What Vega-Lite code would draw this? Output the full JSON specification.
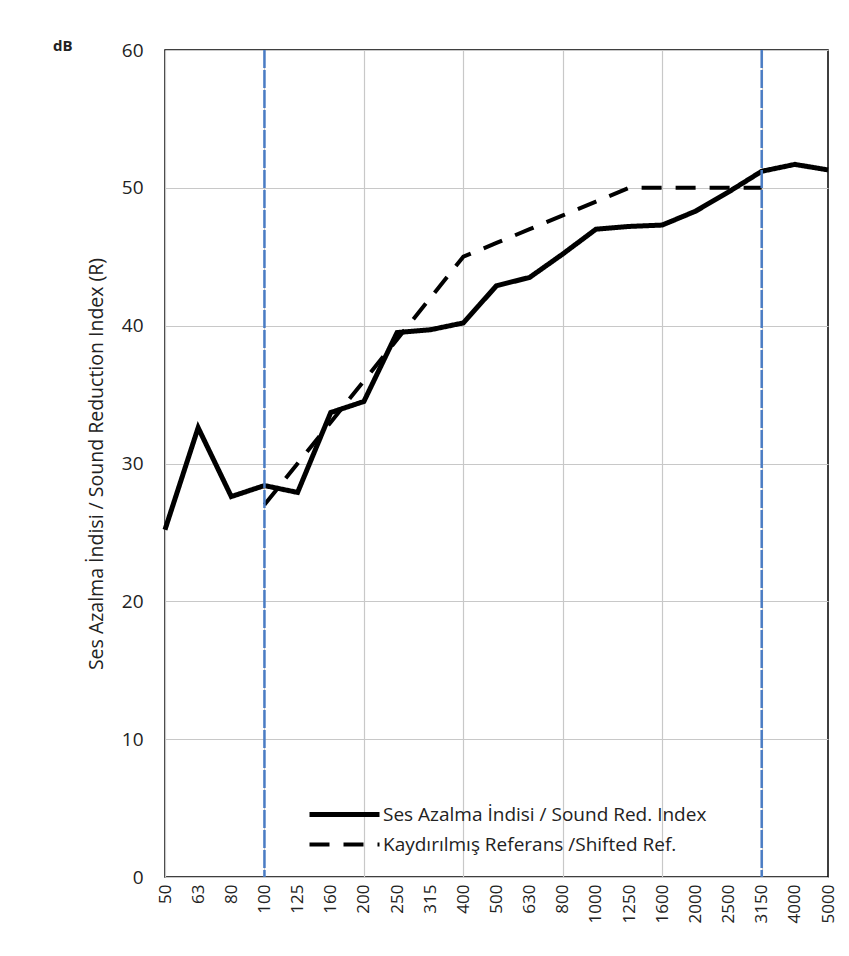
{
  "$schema": "https://vega.github.io/schema/vega-lite/v6.json",
  "width": 663,
  "height": 827,
  "autosize": {"type": "none"},
  "padding": {"left": 165, "top": 50, "right": 21, "bottom": 79},
  "background": "white",
  "config": {
    "view": {"stroke": "#000", "strokeWidth": 1.5},
    "font": "Open Sans"
  },
  "title": {
    "text": "dB",
    "anchor": "start",
    "frame": "group",
    "dx": -112,
    "offset": -13,
    "fontSize": 15,
    "fontWeight": "bold",
    "font": "Open Sans",
    "color": "#222"
  },
  "datasets": {
    "lines": [
      {"f": 50, "v": 25.2, "s": "Ses Azalma İndisi / Sound Red. Index"},
      {"f": 63, "v": 32.6, "s": "Ses Azalma İndisi / Sound Red. Index"},
      {"f": 80, "v": 27.6, "s": "Ses Azalma İndisi / Sound Red. Index"},
      {"f": 100, "v": 28.4, "s": "Ses Azalma İndisi / Sound Red. Index"},
      {"f": 125, "v": 27.9, "s": "Ses Azalma İndisi / Sound Red. Index"},
      {"f": 160, "v": 33.7, "s": "Ses Azalma İndisi / Sound Red. Index"},
      {"f": 200, "v": 34.5, "s": "Ses Azalma İndisi / Sound Red. Index"},
      {"f": 250, "v": 39.5, "s": "Ses Azalma İndisi / Sound Red. Index"},
      {"f": 315, "v": 39.7, "s": "Ses Azalma İndisi / Sound Red. Index"},
      {"f": 400, "v": 40.2, "s": "Ses Azalma İndisi / Sound Red. Index"},
      {"f": 500, "v": 42.9, "s": "Ses Azalma İndisi / Sound Red. Index"},
      {"f": 630, "v": 43.5, "s": "Ses Azalma İndisi / Sound Red. Index"},
      {"f": 800, "v": 45.2, "s": "Ses Azalma İndisi / Sound Red. Index"},
      {"f": 1000, "v": 47.0, "s": "Ses Azalma İndisi / Sound Red. Index"},
      {"f": 1250, "v": 47.2, "s": "Ses Azalma İndisi / Sound Red. Index"},
      {"f": 1600, "v": 47.3, "s": "Ses Azalma İndisi / Sound Red. Index"},
      {"f": 2000, "v": 48.3, "s": "Ses Azalma İndisi / Sound Red. Index"},
      {"f": 2500, "v": 49.7, "s": "Ses Azalma İndisi / Sound Red. Index"},
      {"f": 3150, "v": 51.2, "s": "Ses Azalma İndisi / Sound Red. Index"},
      {"f": 4000, "v": 51.7, "s": "Ses Azalma İndisi / Sound Red. Index"},
      {"f": 5000, "v": 51.3, "s": "Ses Azalma İndisi / Sound Red. Index"},
      {"f": 100, "v": 27, "s": "Kaydırılmış Referans /Shifted Ref."},
      {"f": 125, "v": 30, "s": "Kaydırılmış Referans /Shifted Ref."},
      {"f": 160, "v": 33, "s": "Kaydırılmış Referans /Shifted Ref."},
      {"f": 200, "v": 36, "s": "Kaydırılmış Referans /Shifted Ref."},
      {"f": 250, "v": 39, "s": "Kaydırılmış Referans /Shifted Ref."},
      {"f": 315, "v": 42, "s": "Kaydırılmış Referans /Shifted Ref."},
      {"f": 400, "v": 45, "s": "Kaydırılmış Referans /Shifted Ref."},
      {"f": 500, "v": 46, "s": "Kaydırılmış Referans /Shifted Ref."},
      {"f": 630, "v": 47, "s": "Kaydırılmış Referans /Shifted Ref."},
      {"f": 800, "v": 48, "s": "Kaydırılmış Referans /Shifted Ref."},
      {"f": 1000, "v": 49, "s": "Kaydırılmış Referans /Shifted Ref."},
      {"f": 1250, "v": 50, "s": "Kaydırılmış Referans /Shifted Ref."},
      {"f": 1600, "v": 50, "s": "Kaydırılmış Referans /Shifted Ref."},
      {"f": 2000, "v": 50, "s": "Kaydırılmış Referans /Shifted Ref."},
      {"f": 2500, "v": 50, "s": "Kaydırılmış Referans /Shifted Ref."},
      {"f": 3150, "v": 50, "s": "Kaydırılmış Referans /Shifted Ref."}
    ],
    "marks": [{"f": 100}, {"f": 3150}]
  },
  "encoding": {
    "x": {
      "field": "f",
      "type": "ordinal",
      "scale": {
        "domain": [50, 63, 80, 100, 125, 160, 200, 250, 315, 400, 500, 630, 800, 1000, 1250, 1600, 2000, 2500, 3150, 4000, 5000],
        "type": "point",
        "padding": 0
      },
      "axis": {
        "title": null,
        "labelAngle": 270,
        "labelFontSize": 17,
        "labelPadding": 7,
        "labelColor": "#222",
        "ticks": false,
        "domain": false,
        "grid": true,
        "gridColor": "#c8c8c8",
        "gridWidth": 1.2,
        "gridOpacity": {
          "condition": {"test": "indexof([50,100,200,400,800,1600,3150], datum.value) >= 0", "value": 1},
          "value": 0
        }
      }
    }
  },
  "layer": [
    {
      "data": {"name": "lines"},
      "mark": {"type": "line", "color": "#000", "strokeCap": "butt"},
      "encoding": {
        "y": {
          "field": "v",
          "type": "quantitative",
          "scale": {"domain": [0, 60], "nice": false},
          "axis": {
            "title": "Ses Azalma İndisi / Sound Reduction Index (R)",
            "values": [0, 10, 20, 30, 40, 50, 60],
            "grid": true,
            "gridColor": "#c8c8c8",
            "gridWidth": 1.2,
            "ticks": false,
            "domain": false,
            "labelFontSize": 19,
            "labelPadding": 22,
            "labelColor": "#222",
            "titleFontSize": 19.5,
            "titleFontWeight": "normal",
            "titleColor": "#222",
            "titlePadding": 15
          }
        },
        "strokeDash": {
          "field": "s",
          "type": "nominal",
          "scale": {
            "domain": ["Ses Azalma İndisi / Sound Red. Index", "Kaydırılmış Referans /Shifted Ref."],
            "range": [[1, 0], [20, 14]]
          },
          "legend": {
            "title": null,
            "orient": "none",
            "legendX": 140,
            "legendY": 755,
            "symbolType": "M-1,0H13",
            "symbolSize": 100,
            "symbolStrokeColor": "#000",
            "symbolStrokeWidth": 5,
            "symbolFillColor": "transparent",
            "labelFontSize": 19,
            "labelLimit": 600,
            "labelOffset": 59,
            "labelColor": "#222",
            "rowPadding": 10
          }
        },
        "strokeWidth": {
          "field": "s",
          "type": "nominal",
          "scale": {
            "domain": ["Ses Azalma İndisi / Sound Red. Index", "Kaydırılmış Referans /Shifted Ref."],
            "range": [5, 4]
          },
          "legend": null
        }
      }
    },
    {
      "data": {"name": "marks"},
      "mark": {"type": "rule", "color": "#4a7cc4", "strokeWidth": 2.5, "strokeDash": [18, 2]},
      "encoding": {}
    }
  ]
}
